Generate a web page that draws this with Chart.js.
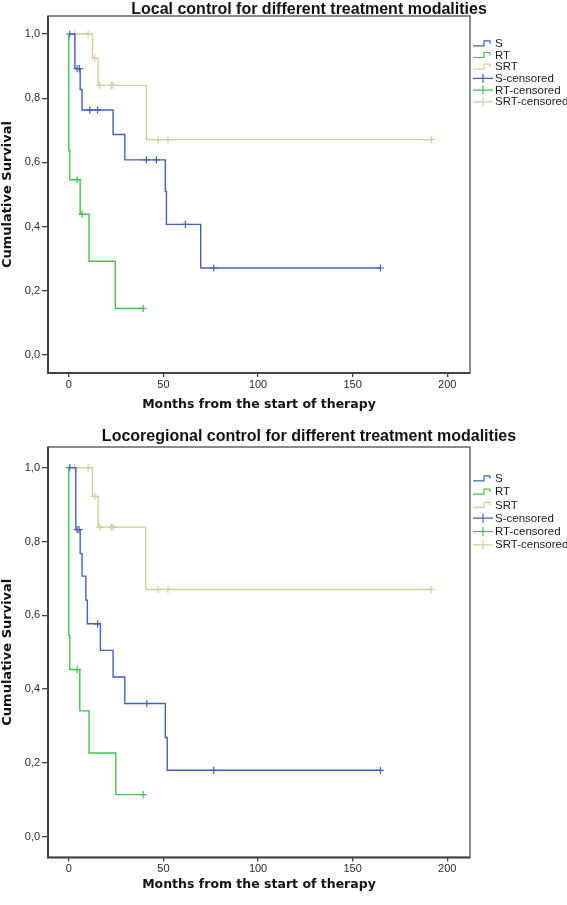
<!DOCTYPE html>
<html><head><meta charset="utf-8">
<script src="https://cdn.jsdelivr.net/npm/chart.js@4/dist/chart.umd.min.js"></script>
<style>
html,body{margin:0;padding:0;background:#fff;overflow:hidden;width:567px;height:905px}
#c1{position:absolute;left:0;top:0}
#c2{position:absolute;left:0;top:425px}
</style></head><body>
<canvas id="c1" width="567" height="425"></canvas>
<canvas id="c2" width="567" height="480"></canvas>
<script>
// ---------- text ----------
const chartTitles = ['Local control for different treatment modalities', 'Locoregional control for different treatment modalities'];
const xAxisTitle = 'Months from the start of therapy';
const yAxisTitle = 'Cumulative Survival';
const seriesNames = ['S', 'RT', 'SRT'];
const legendLabels = ['S', 'RT', 'SRT', 'S-censored', 'RT-censored', 'SRT-censored'];
const xTicks = [0, 50, 100, 150, 200];
const yTicks = [0, 0.2, 0.4, 0.6, 0.8, 1.0];

// ---------- Local control (top) ----------
const localS_time = [0, 3.2, 6.0, 7.0, 23.4, 29.6, 51.0, 51.6, 69.7, 164.7];
const localS_surv = [1, 0.892, 0.827, 0.763, 0.687, 0.608, 0.509, 0.407, 0.271, 0.271];
const localS_censTime = [0.5, 4.4, 5.6, 11.1, 15.2, 41.0, 46.3, 61.6, 76.6, 164.7];
const localS_censSurv = [1.0, 0.892, 0.892, 0.763, 0.763, 0.608, 0.608, 0.407, 0.271, 0.271];

const localRT_time = [0, 0, 0.5, 6.0, 10.7, 24.6, 39.3];
const localRT_surv = [1, 0.637, 0.546, 0.439, 0.292, 0.145, 0.145];
const localRT_censTime = [4.4, 7.0, 39.3];
const localRT_censSurv = [0.546, 0.439, 0.145];

const localSRT_time = [0, 12.5, 15.5, 41.0, 191.5];
const localSRT_surv = [1, 0.924, 0.840, 0.671, 0.671];
const localSRT_censTime = [3.2, 10.2, 13.7, 16.4, 22.5, 23.4, 47.2, 52.4, 191.5];
const localSRT_censSurv = [1.0, 1.0, 0.924, 0.840, 0.840, 0.840, 0.671, 0.671, 0.671];

// ---------- Locoregional control (bottom) ----------
const regS_time = [0, 3.7, 6.0, 7.0, 9.0, 9.8, 16.7, 23.4, 29.6, 51.0, 52.0, 164.7];
const regS_surv = [1, 0.832, 0.767, 0.706, 0.641, 0.577, 0.505, 0.433, 0.361, 0.269, 0.180, 0.180];
const regS_censTime = [0.5, 4.4, 5.4, 15.2, 41.2, 76.6, 164.7];
const regS_censSurv = [1.0, 0.832, 0.832, 0.577, 0.361, 0.180, 0.180];

const regRT_time = [0, 0, 0.5, 5.8, 10.7, 24.8, 39.3];
const regRT_surv = [1, 0.546, 0.453, 0.341, 0.227, 0.114, 0.114];
const regRT_censTime = [4.4, 39.3];
const regRT_censSurv = [0.453, 0.114];

const regSRT_time = [0, 12.5, 15.5, 40.6, 191.5];
const regSRT_surv = [1, 0.922, 0.839, 0.670, 0.670];
const regSRT_censTime = [3.2, 10.2, 13.7, 16.4, 22.5, 23.4, 47.2, 52.4, 191.5];
const regSRT_censSurv = [1.0, 1.0, 0.922, 0.839, 0.839, 0.839, 0.670, 0.670, 0.670];

// ---------- style ----------
const colors = ['#4260c2', '#42c24e', '#d6cd98'];
const FONT = '"Liberation Sans", Arial, sans-serif';

function pts(t, s) { return t.map((v, i) => ({ x: v, y: s[i] })); }

function buildDatasets(series) {
  const ds = [];
  series.forEach((sr, k) => {
    ds.push({
      label: seriesNames[k], data: pts(sr.time, sr.surv), stepped: 'before',
      borderColor: colors[k], borderWidth: 1.4, pointRadius: 0, fill: false
    });
  });
  series.forEach((sr, k) => {
    ds.push({
      label: seriesNames[k] + '-censored', data: pts(sr.censTime, sr.censSurv), showLine: false,
      pointStyle: 'cross', pointRadius: 3.6, pointBorderWidth: 1.2,
      borderColor: colors[k], pointBorderColor: colors[k], backgroundColor: colors[k]
    });
  });
  return ds;
}

const titlePlugin = {
  id: 'ttl',
  afterDraw(chart, args, o) {
    const ctx = chart.ctx; ctx.save();
    ctx.font = 'bold 16px ' + FONT; ctx.fillStyle = '#111';
    ctx.textAlign = 'center'; ctx.textBaseline = 'alphabetic';
    ctx.fillText(o.text, o.x, o.y); ctx.restore();
  }
};
const framePlugin = {
  id: 'frame',
  afterDatasetsDraw(chart) {
    const a = chart.chartArea, ctx = chart.ctx; ctx.save();
    ctx.strokeStyle = '#666'; ctx.lineWidth = 1.5;
    ctx.strokeRect(a.left, a.top, a.right - a.left, a.bottom - a.top);
    ctx.strokeStyle = '#444'; ctx.lineWidth = 2;
    ctx.beginPath(); ctx.moveTo(a.left, a.top); ctx.lineTo(a.left, a.bottom); ctx.lineTo(a.right, a.bottom); ctx.stroke();
    ctx.restore();
  }
};
const legendPlugin = {
  id: 'kmLegend',
  afterDraw(chart, args, o) {
    const ctx = chart.ctx; ctx.save();
    ctx.font = '11.5px ' + FONT; ctx.textBaseline = 'middle'; ctx.textAlign = 'left';
    legendLabels.forEach((lab, i) => {
      const y = o.y0 + i * o.dy, x = o.x0, c = colors[i % 3];
      ctx.strokeStyle = c; ctx.lineWidth = 1.2; ctx.beginPath();
      if (i < 3) {
        ctx.moveTo(x, y + 2.5); ctx.lineTo(x + 11, y + 2.5); ctx.lineTo(x + 11, y - 2.5);
        ctx.lineTo(x + 17, y - 2.5); ctx.lineTo(x + 17, y + 0.5);
      } else {
        ctx.moveTo(x, y); ctx.lineTo(x + 20, y);
        ctx.moveTo(x + 10, y - 4.5); ctx.lineTo(x + 10, y + 4.5);
      }
      ctx.stroke();
      ctx.fillStyle = '#1a1a1a'; ctx.fillText(lab, x + 22, y + 0.5);
    });
    ctx.restore();
  }
};

function makeChart(id, series, cfg) {
  return new Chart(document.getElementById(id), {
    type: 'line',
    data: { datasets: buildDatasets(series) },
    options: {
      responsive: false, animation: false, events: [],
      layout: { padding: { top: cfg.padTop, left: 0, right: 97, bottom: cfg.padBottom } },
      plugins: {
        legend: { display: false }, tooltip: { enabled: false }, title: { display: false },
        ttl: { text: cfg.title, x: 309, y: cfg.titleY },
        kmLegend: { x0: 473, y0: cfg.legY0, dy: cfg.legDy }
      },
      scales: {
        x: {
          type: 'linear', min: -11, max: 212,
          afterBuildTicks: s => { s.ticks = xTicks.map(v => ({ value: v })); },
          afterFit: s => { s.height = cfg.xHeight; },
          grid: { drawOnChartArea: false, drawTicks: true, tickLength: 4, color: '#444', lineWidth: 1.3 },
          border: { display: false },
          ticks: { padding: 1, color: '#2a2a2a', font: { family: FONT, size: 11 }, maxRotation: 0, autoSkip: false, callback: v => String(v) },
          title: { display: true, text: xAxisTitle, color: '#111', padding: 0, font: { family: '"DejaVu Sans", Verdana, sans-serif', weight: 'bold', size: 12.5, lineHeight: 1.2 } }
        },
        y: {
          type: 'linear', min: -0.056, max: 1.056,
          afterBuildTicks: s => { s.ticks = yTicks.map(v => ({ value: v })); },
          afterFit: s => { s.width = 48; },
          grid: { drawOnChartArea: false, drawTicks: true, tickLength: 6, color: '#444', lineWidth: 1.3 },
          border: { display: false },
          ticks: { padding: 2, color: '#2a2a2a', font: { family: FONT, size: 11 }, callback: v => v.toFixed(1).replace('.', ',') },
          title: { display: true, text: yAxisTitle, color: '#111', padding: 0, font: { family: '"DejaVu Sans", Verdana, sans-serif', weight: 'bold', size: 13, lineHeight: 1.2 } }
        }
      }
    },
    plugins: [framePlugin, titlePlugin, legendPlugin]
  });
}

makeChart('c1', [
  { time: localS_time, surv: localS_surv, censTime: localS_censTime, censSurv: localS_censSurv },
  { time: localRT_time, surv: localRT_surv, censTime: localRT_censTime, censSurv: localRT_censSurv },
  { time: localSRT_time, surv: localSRT_surv, censTime: localSRT_censTime, censSurv: localSRT_censSurv }
], { title: chartTitles[0], titleY: 13.5, padTop: 16, xHeight: 39.6, padBottom: 12.4, legY0: 43.3, legDy: 11.7 });

makeChart('c2', [
  { time: regS_time, surv: regS_surv, censTime: regS_censTime, censSurv: regS_censSurv },
  { time: regRT_time, surv: regRT_surv, censTime: regRT_censTime, censSurv: regRT_censSurv },
  { time: regSRT_time, surv: regSRT_surv, censTime: regSRT_censTime, censSurv: regSRT_censSurv }
], { title: chartTitles[1], titleY: 16, padTop: 22, xHeight: 35.2, padBottom: 12.4, legY0: 53.3, legDy: 13.3 });
</script>
</body></html>
